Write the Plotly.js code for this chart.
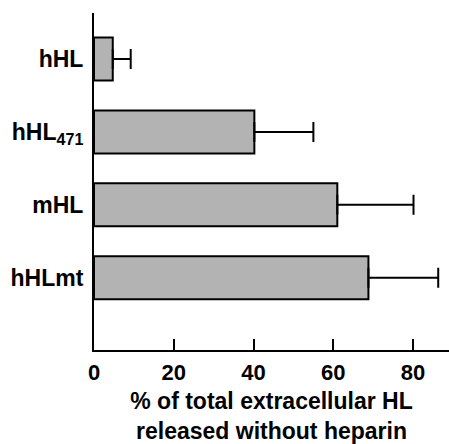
<!DOCTYPE html>
<html>
<head>
<meta charset="utf-8">
<script src="https://cdn.plot.ly/plotly-3.0.1.min.js"></script>
<style>html,body{margin:0;padding:0;background:#fff;}#chart{width:449px;height:444px;}</style>
</head>
<body>
<div id="chart"></div>
<script>
const categories = ["hHL", "hHL<sub>471</sub>", "mHL", "hHLmt"];
const values = [4.7, 40.2, 61.0, 68.8];
const errors = [4.5, 14.8, 19.1, 17.5];
const xTicks = [0, 20, 40, 60, 80];

const fam = "Liberation Sans, Arial, sans-serif";
const labelFont = {family: fam, size: 23, color: "#000", weight: "bold"};
const tickFont = {family: fam, size: 22, color: "#000", weight: "bold"};

const trace = {
  type: "bar",
  orientation: "h",
  x: values,
  y: categories,
  marker: {color: "#b3b3b3", line: {color: "#000", width: 2}},
  error_x: {type: "data", array: errors, arrayminus: errors.map(() => 0), symmetric: false,
            color: "#000", thickness: 2, width: 10},
  width: 0.59,
  hoverinfo: "none"
};

const layout = {
  width: 449, height: 444,
  margin: {l: 94, r: 0, t: 13, b: 94},
  paper_bgcolor: "#fff", plot_bgcolor: "#fff",
  showlegend: false,
  font: labelFont,
  xaxis: {
    range: [0, 89], tickvals: xTicks, ticktext: xTicks.map(String),
    ticks: "inside", ticklen: 11, tickwidth: 2, tickcolor: "#000",
    showline: true, linewidth: 2, linecolor: "#000", showgrid: false, zeroline: false,
    tickfont: tickFont, ticklabelstandoff: 2,
    title: {text: "% of total extracellular HL<br>released without heparin", font: labelFont, standoff: 13}
  },
  yaxis: {
    type: "category", range: [3.99, -0.63],
    ticks: "", showline: true, linewidth: 2, linecolor: "#000", showgrid: false, zeroline: false,
    tickfont: labelFont, ticklabelstandoff: 4
  }
};

Plotly.newPlot("chart", [trace], layout, {staticPlot: true, displayModeBar: false});
</script>
</body>
</html>
